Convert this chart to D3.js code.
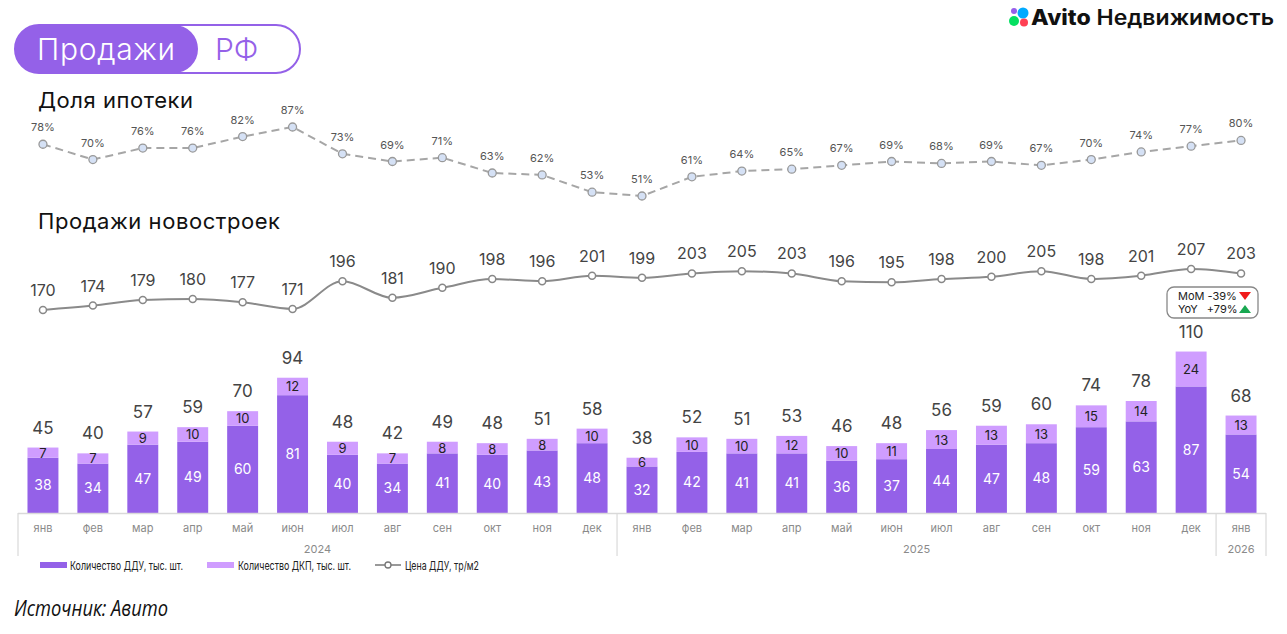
<!DOCTYPE html>
<html>
<head>
<meta charset="utf-8">
<script src="https://cdn.jsdelivr.net/npm/d3@7"></script>
<style>
  body { margin: 0; background: #fff; }
  text { font-family: Inter, "Open Sans", sans-serif; }
</style>
</head>
<body>
<div id="chart"></div>
<script>
// data
var months = ["янв","фев","мар","апр","май","июн","июл","авг","сен","окт","ноя","дек",
              "янв","фев","мар","апр","май","июн","июл","авг","сен","окт","ноя","дек","янв"];
var years = [{label: "2024", from: 0, to: 12}, {label: "2025", from: 12, to: 24}, {label: "2026", from: 24, to: 25}];
var ddu = [38,34,47,49,60,81,40,34,41,40,43,48,32,42,41,41,36,37,44,47,48,59,63,87,54];
var dkp = [7,7,9,10,10,12,9,7,8,8,8,10,6,10,10,12,10,11,13,13,13,15,14,24,13];
var totals = [45,40,57,59,70,94,48,42,49,48,51,58,38,52,51,53,46,48,56,59,60,74,78,110,68];
var price = [170,174,179,180,177,171,196,181,190,198,196,201,199,203,205,203,196,195,198,200,205,198,201,207,203];
var mortgage = [78,70,76,76,82,87,73,69,71,63,62,53,51,61,64,65,67,69,68,69,67,70,74,77,80];

var W = 1287, H = 634;
var purple = "#9461E8", lilac = "#CF9DFF";

var svg = d3.select("#chart").append("svg")
    .attr("width", W)
    .attr("height", H);

// scales
var x = d3.scaleBand()
    .domain(d3.range(months.length))
    .range([18, 1266])
    .paddingInner(0.38)
    .paddingOuter(0.19);
var cx = function(i) { return x(i) + x.bandwidth() / 2; };
var step = x.step();
var x0 = 18;

var yBar = d3.scaleLinear().domain([0, 110]).range([513, 353]);
var yMort = d3.scaleLinear().domain([51, 87]).range([196, 127]);
var yPrice = d3.scaleLinear().domain([170, 207]).range([310, 269]);

// header pill
svg.append("rect")
    .attr("x", 15).attr("y", 25).attr("width", 285).attr("height", 48).attr("rx", 24)
    .attr("fill", "#fff").attr("stroke", purple).attr("stroke-width", 2);
svg.append("rect")
    .attr("x", 15).attr("y", 25).attr("width", 183).attr("height", 48).attr("rx", 24)
    .attr("fill", purple);
svg.append("text").attr("x", 37).attr("y", 60)
    .attr("font-size", 30).attr("fill", "#fff").attr("font-weight", 300)
    .attr("textLength", 138).text("Продажи");
svg.append("text").attr("x", 215).attr("y", 60)
    .attr("font-size", 30).attr("fill", purple).attr("font-weight", 300).text("РФ");

// logo
var logo = svg.append("g");
logo.append("circle").attr("cx", 1014).attr("cy", 11).attr("r", 3).attr("fill", "#965EEB");
logo.append("circle").attr("cx", 1023).attr("cy", 13).attr("r", 5.5).attr("fill", "#0AF");
logo.append("circle").attr("cx", 1014).attr("cy", 21).attr("r", 5).attr("fill", "#04E061");
logo.append("circle").attr("cx", 1024).attr("cy", 22.5).attr("r", 4).attr("fill", "#FF4053");
logo.append("text").attr("x", 1031).attr("y", 25)
    .attr("font-size", 21).attr("fill", "#111").attr("font-weight", 600)
    .attr("textLength", 243).attr("lengthAdjust", "spacingAndGlyphs")
    .html('<tspan font-weight="800">Avito</tspan> Недвижимость');

// section titles
svg.append("text").attr("x", 38).attr("y", 108)
    .attr("font-size", 22).attr("fill", "#111").attr("textLength", 155).text("Доля ипотеки");
svg.append("text").attr("x", 38).attr("y", 229)
    .attr("font-size", 22).attr("fill", "#111").attr("textLength", 242).text("Продажи новостроек");

// mortgage share line
svg.append("path")
    .datum(mortgage)
    .attr("fill", "none")
    .attr("stroke", "#a6a6a6")
    .attr("stroke-width", 2)
    .attr("stroke-dasharray", "8,5")
    .attr("d", d3.line().x(function(d, i) { return cx(i); }).y(function(d) { return yMort(d); }));
svg.selectAll(".mdot").data(mortgage).enter().append("circle")
    .attr("cx", function(d, i) { return cx(i); })
    .attr("cy", function(d) { return yMort(d); })
    .attr("r", 4)
    .attr("fill", "#D5E1F5").attr("stroke", "#999").attr("stroke-width", 1.3);
svg.selectAll(".mlab").data(mortgage).enter().append("text")
    .attr("x", function(d, i) { return cx(i); })
    .attr("y", function(d) { return yMort(d) - 13; })
    .attr("text-anchor", "middle")
    .attr("font-size", 11).attr("fill", "#555")
    .text(function(d) { return d + "%"; });

// price line
svg.append("path")
    .datum(price)
    .attr("fill", "none")
    .attr("stroke", "#8a8a8a")
    .attr("stroke-width", 2)
    .attr("d", d3.line().curve(d3.curveMonotoneX)
        .x(function(d, i) { return cx(i); }).y(function(d) { return yPrice(d); }));
svg.selectAll(".pdot").data(price).enter().append("circle")
    .attr("cx", function(d, i) { return cx(i); })
    .attr("cy", function(d) { return yPrice(d); })
    .attr("r", 3.5)
    .attr("fill", "#fff").attr("stroke", "#888").attr("stroke-width", 1.5);
svg.selectAll(".plab").data(price).enter().append("text")
    .attr("x", function(d, i) { return cx(i); })
    .attr("y", function(d) { return yPrice(d) - 14; })
    .attr("text-anchor", "middle")
    .attr("font-size", 16).attr("fill", "#444")
    .text(function(d) { return d; });

// MoM / YoY box
var box = svg.append("g");
box.append("rect").attr("x", 1167).attr("y", 287).attr("width", 91).attr("height", 31).attr("rx", 7)
    .attr("fill", "#fff").attr("stroke", "#888").attr("stroke-width", 1.3);
box.append("text").attr("x", 1178).attr("y", 300).attr("font-size", 11).attr("fill", "#222").text("MoM -39%");
box.append("text").attr("x", 1178).attr("y", 313).attr("font-size", 11).attr("fill", "#222")
    .html('YoY <tspan dx="6">+79%</tspan>');
box.append("path").attr("d", "M1239,292 L1251,292 L1245,300 Z").attr("fill", "#F01B1B");
box.append("path").attr("d", "M1239,313 L1251,313 L1245,305 Z").attr("fill", "#18A851");

// bars
svg.selectAll(".ddu").data(ddu).enter().append("rect")
    .attr("x", function(d, i) { return x(i); })
    .attr("y", function(d) { return yBar(d); })
    .attr("width", x.bandwidth())
    .attr("height", function(d) { return yBar(0) - yBar(d); })
    .attr("fill", purple);
svg.selectAll(".dkp").data(dkp).enter().append("rect")
    .attr("x", function(d, i) { return x(i); })
    .attr("y", function(d, i) { return yBar(ddu[i] + d); })
    .attr("width", x.bandwidth())
    .attr("height", function(d, i) { return yBar(ddu[i]) - yBar(ddu[i] + d); })
    .attr("fill", lilac);

svg.selectAll(".dlab").data(ddu).enter().append("text")
    .attr("x", function(d, i) { return cx(i); })
    .attr("y", function(d) { return (yBar(d) + yBar(0)) / 2 + 5; })
    .attr("text-anchor", "middle")
    .attr("font-size", 14).attr("fill", "#fff")
    .text(function(d) { return d; });
svg.selectAll(".klab").data(dkp).enter().append("text")
    .attr("x", function(d, i) { return cx(i); })
    .attr("y", function(d, i) { return (yBar(ddu[i] + d) + yBar(ddu[i])) / 2 + 5; })
    .attr("text-anchor", "middle")
    .attr("font-size", 13).attr("fill", "#222")
    .text(function(d) { return d; });
svg.selectAll(".tlab").data(totals).enter().append("text")
    .attr("x", function(d, i) { return cx(i); })
    .attr("y", function(d, i) { return yBar(ddu[i] + dkp[i]) - 14; })
    .attr("text-anchor", "middle")
    .attr("font-size", 17).attr("fill", "#444")
    .text(function(d) { return d; });

// x axis: months + years
svg.append("line").attr("x1", x0).attr("x2", 1266).attr("y1", 513.5).attr("y2", 513.5)
    .attr("stroke", "#d9d9d9").attr("stroke-width", 1.5);
svg.selectAll(".sep").data([0, 12, 24, 25]).enter().append("line")
    .attr("x1", function(d) { return x0 + d * step; })
    .attr("x2", function(d) { return x0 + d * step; })
    .attr("y1", 513).attr("y2", 556)
    .attr("stroke", "#d9d9d9").attr("stroke-width", 1.2);
svg.selectAll(".mon").data(months).enter().append("text")
    .attr("x", function(d, i) { return cx(i); })
    .attr("y", 532)
    .attr("text-anchor", "middle")
    .attr("font-size", 11).attr("fill", "#8a8a8a")
    .text(function(d) { return d; });
svg.selectAll(".yr").data(years).enter().append("text")
    .attr("x", function(d) { return x0 + (d.from + d.to) / 2 * step; })
    .attr("y", 553)
    .attr("text-anchor", "middle")
    .attr("font-size", 11).attr("fill", "#8a8a8a")
    .text(function(d) { return d.label; });

// legend
var lg = svg.append("g").attr("font-size", 12).attr("fill", "#222");
lg.append("rect").attr("x", 40).attr("y", 562).attr("width", 27).attr("height", 6).attr("fill", purple);
lg.append("text").attr("x", 70).attr("y", 569.5)
    .attr("textLength", 113).attr("lengthAdjust", "spacingAndGlyphs").text("Количество ДДУ, тыс. шт.");
lg.append("rect").attr("x", 207).attr("y", 562).attr("width", 27).attr("height", 6).attr("fill", lilac);
lg.append("text").attr("x", 238).attr("y", 569.5)
    .attr("textLength", 113).attr("lengthAdjust", "spacingAndGlyphs").text("Количество ДКП, тыс. шт.");
lg.append("line").attr("x1", 375).attr("x2", 401).attr("y1", 565).attr("y2", 565)
    .attr("stroke", "#777").attr("stroke-width", 1.5);
lg.append("circle").attr("cx", 388).attr("cy", 565).attr("r", 3)
    .attr("fill", "#fff").attr("stroke", "#777").attr("stroke-width", 1.3);
lg.append("text").attr("x", 405).attr("y", 569.5)
    .attr("textLength", 74).attr("lengthAdjust", "spacingAndGlyphs").text("Цена ДДУ, тр/м2");

// source
svg.append("text").attr("x", 14).attr("y", 616)
    .attr("font-size", 22).attr("font-style", "italic").attr("fill", "#111")
    .style("font-family", "'Open Sans', sans-serif")
    .attr("textLength", 154).attr("lengthAdjust", "spacingAndGlyphs")
    .text("Источник: Авито");
</script>
</body>
</html>
